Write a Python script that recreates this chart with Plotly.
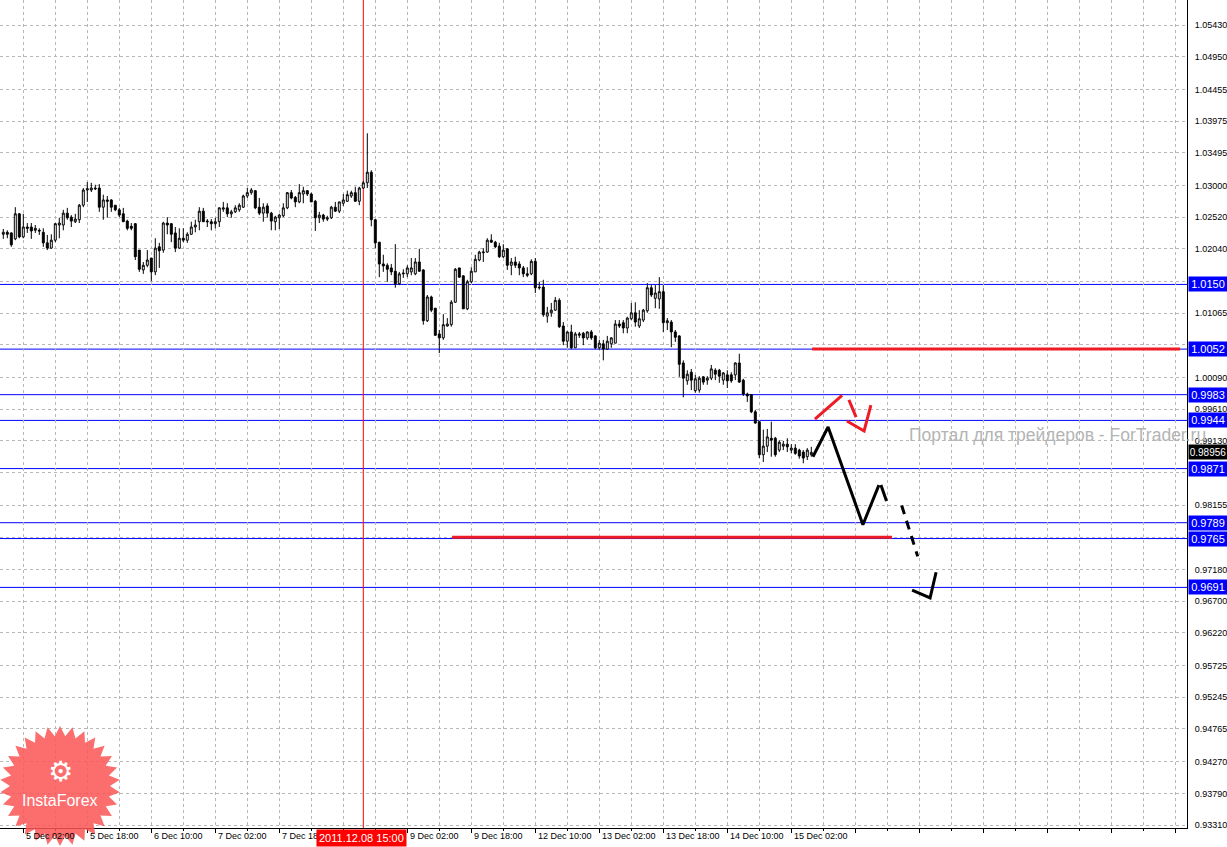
import math
import plotly.graph_objects as go

# ---------------- data (H1 bars) ----------------
opens = [
    1.0226, 1.0229, 1.0228, 1.0219, 1.0257, 1.0222, 1.0237, 1.0237, 1.0232, 1.0232,
    1.0229, 1.0213, 1.0205, 1.0217, 1.0240, 1.0240, 1.0258, 1.0252, 1.0245, 1.0248,
    1.0270, 1.0293, 1.0293, 1.0296, 1.0296, 1.0267, 1.0278, 1.0278, 1.0270, 1.0263,
    1.0257, 1.0246, 1.0238, 1.0242, 1.0202, 1.0172, 1.0179, 1.0190, 1.0169, 1.0207,
    1.0202, 1.0243, 1.0242, 1.0228, 1.0205, 1.0220, 1.0217, 1.0226, 1.0237, 1.0245,
    1.0261, 1.0246, 1.0245, 1.0242, 1.0245, 1.0264, 1.0266, 1.0257, 1.0260, 1.0263,
    1.0267, 1.0284, 1.0289, 1.0292, 1.0267, 1.0258, 1.0269, 1.0258, 1.0245, 1.0251,
    1.0254, 1.0266, 1.0289, 1.0282, 1.0275, 1.0287, 1.0292, 1.0287, 1.0276, 1.0251,
    1.0255, 1.0249, 1.0251, 1.0267, 1.0261, 1.0273, 1.0276, 1.0284, 1.0289, 1.0276,
    1.0296, 1.0304, 1.0320, 1.0248, 1.0214, 1.0181, 1.0179, 1.0175, 1.0170, 1.0151,
    1.0166, 1.0166, 1.0169, 1.0166, 1.0184, 1.0172, 1.0095, 1.0131, 1.0114, 1.0075,
    1.0069, 1.0087, 1.0089, 1.0123, 1.0175, 1.0163, 1.0113, 1.0154, 1.0169, 1.0187,
    1.0198, 1.0199, 1.0217, 1.0214, 1.0208, 1.0192, 1.0204, 1.0179, 1.0184, 1.0181,
    1.0175, 1.0166, 1.0166, 1.0185, 1.0146, 1.0146, 1.0102, 1.0107, 1.0111, 1.0126,
    1.0087, 1.0064, 1.0078, 1.0054, 1.0073, 1.0076, 1.0069, 1.0078, 1.0072, 1.0054,
    1.0060, 1.0052, 1.0060, 1.0061, 1.0090, 1.0092, 1.0084, 1.0098, 1.0107, 1.0087,
    1.0096, 1.0110, 1.0145, 1.0129, 1.0128, 1.0139, 1.0092, 1.0093, 1.0078, 1.0072,
    1.0031, 1.0004, 1.0017, 0.9989, 0.9990, 1.0010, 1.0005, 1.0008, 1.0020, 1.0020,
    1.0005, 1.0013, 1.0013, 1.0013, 1.0031, 1.0005, 0.9984, 0.9983, 0.9957, 0.9942,
    0.9892, 0.9905, 0.9917, 0.9917, 0.9899, 0.9905, 0.9908, 0.9899, 0.9902, 0.9899,
    0.9896, 0.9889, 0.9892,
]
highs = [
    1.0234, 1.0232, 1.0229, 1.0267, 1.0258, 1.0257, 1.0243, 1.0243, 1.0240, 1.0235,
    1.0235, 1.0225, 1.0226, 1.0243, 1.0251, 1.0263, 1.0266, 1.0255, 1.0257, 1.0272,
    1.0296, 1.0305, 1.0304, 1.0301, 1.0302, 1.0286, 1.0284, 1.0279, 1.0270, 1.0266,
    1.0266, 1.0248, 1.0243, 1.0243, 1.0202, 1.0184, 1.0202, 1.0190, 1.0220, 1.0213,
    1.0245, 1.0252, 1.0243, 1.0237, 1.0235, 1.0235, 1.0229, 1.0245, 1.0248, 1.0267,
    1.0266, 1.0249, 1.0249, 1.0251, 1.0267, 1.0275, 1.0273, 1.0263, 1.0270, 1.0273,
    1.0286, 1.0296, 1.0296, 1.0293, 1.0281, 1.0273, 1.0273, 1.0260, 1.0254, 1.0257,
    1.0273, 1.0290, 1.0293, 1.0284, 1.0302, 1.0298, 1.0293, 1.0289, 1.0278, 1.0260,
    1.0257, 1.0254, 1.0269, 1.0275, 1.0275, 1.0287, 1.0292, 1.0292, 1.0298, 1.0298,
    1.0307, 1.0379, 1.0323, 1.0249, 1.0214, 1.0195, 1.0182, 1.0181, 1.0211, 1.0169,
    1.0173, 1.0179, 1.0190, 1.0190, 1.0204, 1.0173, 1.0134, 1.0133, 1.0114, 1.0081,
    1.0105, 1.0099, 1.0126, 1.0175, 1.0175, 1.0164, 1.0157, 1.0176, 1.0195, 1.0201,
    1.0205, 1.0220, 1.0226, 1.0216, 1.0213, 1.0211, 1.0205, 1.0190, 1.0192, 1.0185,
    1.0178, 1.0176, 1.0188, 1.0190, 1.0154, 1.0157, 1.0116, 1.0122, 1.0131, 1.0129,
    1.0093, 1.0079, 1.0089, 1.0078, 1.0078, 1.0078, 1.0079, 1.0081, 1.0073, 1.0066,
    1.0066, 1.0072, 1.0070, 1.0096, 1.0096, 1.0096, 1.0101, 1.0122, 1.0123, 1.0111,
    1.0113, 1.0152, 1.0149, 1.0149, 1.0161, 1.0149, 1.0099, 1.0096, 1.0081, 1.0073,
    1.0035, 1.0020, 1.0022, 1.0013, 1.0011, 1.0011, 1.0011, 1.0028, 1.0023, 1.0022,
    1.0017, 1.0020, 1.0017, 1.0032, 1.0045, 1.0007, 0.9986, 0.9984, 0.9960, 0.9943,
    0.9930, 0.9931, 0.9942, 0.9919, 0.9914, 0.9913, 0.9917, 0.9908, 0.9908, 0.9901,
    0.9899, 0.9902, 0.9904,
]
lows = [
    1.0219, 1.0220, 1.0207, 1.0217, 1.0220, 1.0220, 1.0228, 1.0219, 1.0228, 1.0225,
    1.0207, 1.0202, 1.0204, 1.0214, 1.0220, 1.0232, 1.0248, 1.0237, 1.0243, 1.0243,
    1.0267, 1.0275, 1.0290, 1.0293, 1.0260, 1.0248, 1.0251, 1.0260, 1.0261, 1.0252,
    1.0245, 1.0232, 1.0232, 1.0187, 1.0169, 1.0166, 1.0176, 1.0155, 1.0164, 1.0175,
    1.0198, 1.0226, 1.0214, 1.0199, 1.0204, 1.0214, 1.0213, 1.0225, 1.0229, 1.0232,
    1.0245, 1.0237, 1.0232, 1.0235, 1.0237, 1.0260, 1.0252, 1.0251, 1.0258, 1.0260,
    1.0266, 1.0281, 1.0286, 1.0264, 1.0255, 1.0245, 1.0251, 1.0232, 1.0232, 1.0234,
    1.0252, 1.0264, 1.0279, 1.0267, 1.0273, 1.0273, 1.0284, 1.0275, 1.0231, 1.0243,
    1.0245, 1.0246, 1.0249, 1.0260, 1.0258, 1.0269, 1.0275, 1.0281, 1.0275, 1.0270,
    1.0295, 1.0296, 1.0238, 1.0205, 1.0161, 1.0169, 1.0154, 1.0164, 1.0145, 1.0149,
    1.0160, 1.0161, 1.0164, 1.0164, 1.0169, 1.0089, 1.0093, 1.0108, 1.0072, 1.0046,
    1.0066, 1.0086, 1.0086, 1.0122, 1.0160, 1.0113, 1.0111, 1.0152, 1.0169, 1.0185,
    1.0184, 1.0198, 1.0213, 1.0205, 1.0190, 1.0190, 1.0172, 1.0164, 1.0175, 1.0164,
    1.0161, 1.0161, 1.0164, 1.0137, 1.0142, 1.0101, 1.0092, 1.0101, 1.0110, 1.0084,
    1.0058, 1.0054, 1.0052, 1.0054, 1.0069, 1.0058, 1.0066, 1.0066, 1.0052, 1.0051,
    1.0035, 1.0051, 1.0054, 1.0061, 1.0084, 1.0076, 1.0076, 1.0096, 1.0086, 1.0084,
    1.0093, 1.0107, 1.0131, 1.0114, 1.0113, 1.0078, 1.0081, 1.0055, 1.0063, 1.0010,
    0.9979, 0.9998, 0.9990, 0.9986, 0.9986, 0.9998, 0.9998, 1.0005, 1.0005, 1.0001,
    0.9998, 0.9993, 1.0001, 1.0005, 1.0001, 0.9981, 0.9972, 0.9955, 0.9939, 0.9887,
    0.9881, 0.9896, 0.9889, 0.9889, 0.9896, 0.9899, 0.9896, 0.9894, 0.9892, 0.9886,
    0.9879, 0.9884, 0.9889,
]
closes = [
    1.0229, 1.0226, 1.0210, 1.0257, 1.0222, 1.0237, 1.0235, 1.0231, 1.0235, 1.0231,
    1.0213, 1.0205, 1.0217, 1.0242, 1.0243, 1.0258, 1.0251, 1.0246, 1.0249, 1.0270,
    1.0293, 1.0295, 1.0296, 1.0295, 1.0267, 1.0278, 1.0276, 1.0267, 1.0263, 1.0255,
    1.0245, 1.0235, 1.0235, 1.0192, 1.0173, 1.0179, 1.0187, 1.0169, 1.0205, 1.0201,
    1.0243, 1.0240, 1.0226, 1.0205, 1.0220, 1.0217, 1.0226, 1.0237, 1.0240, 1.0261,
    1.0245, 1.0245, 1.0242, 1.0245, 1.0266, 1.0266, 1.0257, 1.0260, 1.0266, 1.0270,
    1.0284, 1.0289, 1.0293, 1.0266, 1.0258, 1.0267, 1.0258, 1.0246, 1.0252, 1.0255,
    1.0266, 1.0289, 1.0281, 1.0275, 1.0289, 1.0292, 1.0287, 1.0275, 1.0251, 1.0255,
    1.0249, 1.0251, 1.0267, 1.0261, 1.0275, 1.0278, 1.0286, 1.0289, 1.0276, 1.0296,
    1.0304, 1.0320, 1.0248, 1.0213, 1.0181, 1.0178, 1.0173, 1.0169, 1.0151, 1.0166,
    1.0167, 1.0175, 1.0175, 1.0184, 1.0170, 1.0095, 1.0131, 1.0111, 1.0073, 1.0069,
    1.0089, 1.0090, 1.0123, 1.0173, 1.0161, 1.0113, 1.0154, 1.0170, 1.0188, 1.0199,
    1.0199, 1.0217, 1.0214, 1.0207, 1.0192, 1.0202, 1.0179, 1.0184, 1.0179, 1.0175,
    1.0166, 1.0164, 1.0185, 1.0145, 1.0145, 1.0104, 1.0107, 1.0111, 1.0126, 1.0086,
    1.0064, 1.0078, 1.0054, 1.0075, 1.0075, 1.0069, 1.0078, 1.0069, 1.0054, 1.0061,
    1.0052, 1.0064, 1.0069, 1.0090, 1.0087, 1.0084, 1.0099, 1.0107, 1.0093, 1.0098,
    1.0111, 1.0145, 1.0134, 1.0137, 1.0139, 1.0092, 1.0095, 1.0078, 1.0070, 1.0029,
    1.0008, 1.0014, 1.0005, 1.0007, 1.0008, 1.0002, 1.0008, 1.0022, 1.0014, 1.0011,
    1.0016, 1.0004, 1.0004, 1.0031, 1.0002, 0.9984, 0.9981, 0.9957, 0.9940, 0.9892,
    0.9905, 0.9919, 0.9914, 0.9892, 0.9911, 0.9908, 0.9904, 0.9902, 0.9894, 0.9890,
    0.9887, 0.9899, 0.98956,
]
bars = list(range(len(opens)))  # bar 5 = 5 Dec 02:00 (H1)

levels = [1.0150, 1.0052, 0.9983, 0.9944, 0.9871, 0.9789, 0.9765, 0.9691]
level_labels = ["1.0150", "1.0052", "0.9983", "0.9944", "0.9871", "0.9789", "0.9765", "0.9691"]
bid_price = 0.98956
bid_label = "0.98956"

ytick_vals = [1.05430, 1.04950, 1.04455, 1.03975, 1.03495, 1.03000, 1.02520, 1.02040,
              1.01545, 1.01065, 1.00585, 1.00090, 0.99610, 0.99130, 0.98650, 0.98155,
              0.97670, 0.97180, 0.96700, 0.96220, 0.95725, 0.95245, 0.94765, 0.94270,
              0.93790, 0.93310]
ytick_text = ["%.5f" % v for v in ytick_vals]

xlabel_bars = [-11, 5, 21, 37, 53, 69, 85, 101, 117, 133, 149, 165, 181, 197]
xlabel_text = ["2 Dec 10:00", "5 Dec 02:00", "5 Dec 18:00", "6 Dec 10:00", "7 Dec 02:00",
               "7 Dec 18:00", "8 Dec 10:00", "9 Dec 02:00", "9 Dec 18:00", "12 Dec 10:00",
               "13 Dec 02:00", "13 Dec 18:00", "14 Dec 10:00", "15 Dec 02:00"]

vline_bar = 90
vline_label = "2011.12.08 15:00"

# red horizontal target lines (bar from, bar to, price)
red_seg_bars = [[202.2, 294.2], [112.2, 222.2]]
red_seg_price = [1.0052, 0.9767]

# hand-drawn red arrow (bar, price)
red_pen_x = [202.9, 209.7, None, 211.4, 213.2, None, 210.9, 215.2, 216.9]
red_pen_y = [0.9946, 0.9982, None, 0.9975, 0.9949, None, 0.9943, 0.9928, 0.9967]

# hand-drawn black forecast path (solid strokes, dashed stroke)
black_solid_x = [202.4, 206.2, 214.9, 218.9, None, 219.4, 220.8, None, 227.2, 231.7, 233.2]
black_solid_y = [0.9889, 0.9934, 0.9786, 0.9846, None, 0.9846, 0.9822, None, 0.9687, 0.9675, 0.9714]
black_dash_x = [224.6, 228.6]
black_dash_y = [0.9815, 0.9738]

# ---------------- figure ----------------
W, H = 1227, 847
ML, MR, MT, MB = 0, 40, 0, 19
PW, PH = W - ML - MR, H - MT - MB
YMIN, YMAX = 0.93265, 1.05809
XMIN, XMAX = -0.825, -0.825 + PW / 4.0

fig = go.Figure()
fig.add_trace(go.Candlestick(
    x=bars, open=opens, high=highs, low=lows, close=closes,
    increasing=dict(line=dict(color="black", width=1), fillcolor="white"),
    decreasing=dict(line=dict(color="black", width=1), fillcolor="black"),
    whiskerwidth=0, showlegend=False, hoverinfo="skip"))

shapes = []
for lv in levels:
    shapes.append(dict(type="line", xref="paper", x0=0, x1=1, yref="y", y0=lv, y1=lv,
                       layer="between", line=dict(color="#0000ff", width=1)))
shapes.append(dict(type="line", xref="x", x0=vline_bar, x1=vline_bar, yref="paper", y0=0, y1=1,
                   layer="between", line=dict(color="#ff0000", width=1)))

for (xa, xb), p in zip(red_seg_bars, red_seg_price):
    fig.add_trace(go.Scatter(x=[xa, xb], y=[p, p], mode="lines",
                             line=dict(color="#ee1c24", width=3), showlegend=False, hoverinfo="skip"))
fig.add_trace(go.Scatter(x=red_pen_x, y=red_pen_y, mode="lines",
                         line=dict(color="#ee1c24", width=3), showlegend=False, hoverinfo="skip"))
fig.add_trace(go.Scatter(x=black_solid_x, y=black_solid_y, mode="lines",
                         line=dict(color="black", width=3), showlegend=False, hoverinfo="skip"))
fig.add_trace(go.Scatter(x=black_dash_x, y=black_dash_y, mode="lines",
                         line=dict(color="black", width=3, dash="9px,7px"), showlegend=False,
                         hoverinfo="skip"))

# InstaForex badge (decorative starburst, pixel geometry -> paper coords)
cx, cy, R1, R2, N = 60, 786, 60, 50, 30
pts = []
for i in range(2 * N):
    r = R1 if i % 2 == 0 else R2
    a = math.pi * i / N - math.pi / 2
    px = cx + r * math.cos(a)
    py = cy + r * math.sin(a)
    pts.append((px / PW, 1 - py / PH))
path = "M " + " L ".join("%.5f,%.5f" % p for p in pts) + " Z"
shapes.append(dict(type="path", xref="paper", yref="paper", path=path,
                   fillcolor="rgba(252,85,85,0.85)", line=dict(width=0), layer="above"))

annotations = []
annotations.append(dict(xref="paper", yref="paper", x=cx / PW, y=1 - 771 / PH, xanchor="center",
                        yanchor="middle", text="⚙", showarrow=False,
                        font=dict(size=28, color="white", family="DejaVu Sans")))
annotations.append(dict(xref="paper", yref="paper", x=cx / PW, y=1 - 800 / PH, xanchor="center",
                        yanchor="middle", text="InstaForex", showarrow=False,
                        font=dict(size=16, color="white", family="Liberation Sans")))

# watermark
annotations.append(dict(xref="paper", yref="paper", x=907 / PW, y=1 - 435 / PH, xanchor="left",
                        yanchor="middle", text="Портал для трейдеров - ForTrader.ru", showarrow=False,
                        font=dict(size=17.5, color="#b4b4b4", family="Liberation Sans")))

# x labels
for b, t in zip(xlabel_bars, xlabel_text):
    annotations.append(dict(xref="x", yref="paper", x=b, y=0, xanchor="left", yanchor="top",
                            xshift=1, yshift=-1, text=t, showarrow=False,
                            font=dict(size=9, color="black", family="Liberation Sans")))
annotations.append(dict(xref="x", yref="paper", x=vline_bar, y=0, xanchor="center", yanchor="top",
                        xshift=-2, yshift=-1, text=vline_label, showarrow=False, bgcolor="#ff0000",
                        borderpad=2, font=dict(size=11, color="white", family="Liberation Sans")))

# level labels
for lv, t in zip(levels, level_labels):
    annotations.append(dict(xref="paper", yref="y", x=1, y=lv, xanchor="left", yanchor="middle",
                            xshift=1, text=t, showarrow=False, bgcolor="#0000ff", width=36,
                            height=12, align="center",
                            font=dict(size=11, color="white", family="Liberation Sans")))
annotations.append(dict(xref="paper", yref="y", x=1, y=bid_price, xanchor="left", yanchor="middle",
                        xshift=1, text=bid_label, showarrow=False, bgcolor="#000000", width=36,
                        height=12, align="center",
                        font=dict(size=10, color="white", family="Liberation Sans")))

fig.update_layout(
    width=W, height=H, margin=dict(l=ML, r=MR, t=MT, b=MB, autoexpand=False),
    paper_bgcolor="white", plot_bgcolor="white",
    shapes=shapes, annotations=annotations, showlegend=False,
    xaxis=dict(range=[XMIN, XMAX], rangeslider=dict(visible=False), showticklabels=False,
               tickmode="linear", tick0=5, dtick=16, ticks="outside", ticklen=4, tickcolor="black",
               showgrid=True, gridcolor="#b8b8b8", griddash="3px,3px", gridwidth=1,
               minor=dict(tick0=5, dtick=8, showgrid=True, gridcolor="#b8b8b8", griddash="3px,3px",
                          ticks="outside", ticklen=2, tickcolor="black"),
               showline=True, linecolor="black", linewidth=1, zeroline=False, fixedrange=True),
    yaxis=dict(range=[YMIN, YMAX], side="right", tickmode="array", tickvals=ytick_vals,
               ticktext=ytick_text, ticks="", ticklabelstandoff=5,
               tickfont=dict(size=9, color="black", family="Liberation Sans"),
               showgrid=True, gridcolor="#b8b8b8", griddash="3px,3px", gridwidth=1,
               showline=True, linecolor="black", linewidth=1, zeroline=False, fixedrange=True),
)

fig.write_html("out.html", config={"displayModeBar": False},
               post_script="document.body.style.margin='0';document.body.style.overflow='hidden';")
